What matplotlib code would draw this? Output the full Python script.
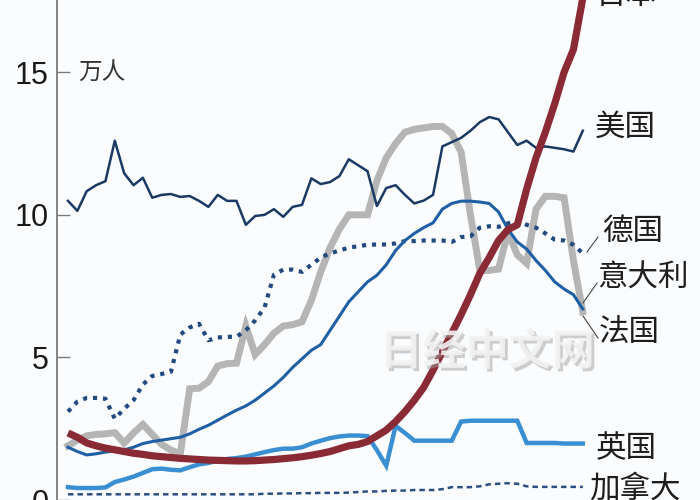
import matplotlib
matplotlib.use("Agg")
import matplotlib.pyplot as plt
import matplotlib.patheffects as pe
from matplotlib.lines import Line2D

# yearly points, no axis labels shown
years = list(range(1964, 2020))

japan = [2.35, 2.2, 2.0, 1.9, 1.82, 1.76, 1.7, 1.64, 1.6, 1.55,
         1.52, 1.49, 1.46, 1.44, 1.42, 1.4, 1.39, 1.38, 1.37, 1.37,
         1.38, 1.4, 1.42, 1.45, 1.48, 1.52, 1.57, 1.63, 1.7, 1.8,
         1.9, 1.95, 2.05, 2.25, 2.45, 2.75, 3.1, 3.5, 3.95, 4.55,
         5.2, 5.85, 6.5, 7.2, 7.95, 8.5, 9.1, 9.48, 9.65, 10.9,
         12.0, 12.9, 13.9, 15.0, 15.8, 17.6]

usa = [10.49, 10.14, 10.83, 11.04, 11.18, 12.6, 11.46, 11.04, 11.3, 10.6,
       10.7, 10.73, 10.63, 10.66, 10.49, 10.28, 10.7, 10.49, 10.49, 9.65,
       9.96, 10.0, 10.2, 9.93, 10.28, 10.35, 11.28, 11.08, 11.15, 11.36,
       11.95, 11.74, 11.53, 10.31, 10.94, 11.04, 10.7, 10.4, 10.5, 10.7,
       12.4, 12.55, 12.7, 12.95, 13.25, 13.43, 13.35, 12.9, 12.45, 12.6,
       12.35, 12.4, 12.35, 12.3, 12.22, 12.95]

germany = [3.1, 3.45, 3.58, 3.58, 3.55, 2.85, 3.2, 3.5, 4.05, 4.35,
           4.42, 4.5, 5.8, 6.05, 6.18, 5.6, 5.7, 5.72, 5.73, 5.95,
           6.3, 6.75, 7.9, 8.08, 8.08, 8.0, 8.25, 8.5, 8.65, 8.75,
           8.85, 8.9, 8.95, 8.96, 8.96, 9.0, 9.08, 9.08, 9.1, 9.1,
           9.1, 9.05, 9.22, 9.25, 9.55, 9.6, 9.58, 9.7, 9.8, 9.65,
           9.55, 9.35, 9.13, 9.1, 8.95, 8.65]

italy = [1.85, 1.7, 1.58, 1.62, 1.68, 1.72, 1.76, 1.85, 1.98, 2.05,
         2.1, 2.15, 2.2, 2.32, 2.48, 2.62, 2.8, 2.98, 3.15, 3.3,
         3.5, 3.75, 4.0, 4.3, 4.65, 4.95, 5.25, 5.45, 5.95, 6.45,
         6.95, 7.3, 7.65, 7.88, 8.25, 8.75, 9.1, 9.35, 9.55, 9.72,
         10.2, 10.4, 10.48, 10.48, 10.45, 10.4, 10.1, 9.5, 9.05, 8.8,
         8.4, 8.05, 7.65, 7.4, 7.2, 6.7]

france = [1.9, 2.1, 2.25, 2.3, 2.32, 2.36, 2.0, 2.35, 2.65, 2.3,
          1.95, 1.75, 1.62, 3.9, 3.92, 4.15, 4.7, 4.78, 4.8, 6.1,
          5.1, 5.45, 5.85, 6.1, 6.15, 6.25, 7.0, 8.0, 8.85, 9.5,
          10.0, 10.0, 10.0, 11.2, 12.0, 12.5, 12.9, 13.0, 13.05, 13.1,
          13.1, 12.85, 12.2, 10.0, 8.05, 8.05, 8.1, 9.4, 8.6, 8.3,
          10.2, 10.65, 10.65, 10.6, 8.4, 6.6]

uk = [0.45, 0.42, 0.42, 0.42, 0.44, 0.63, 0.72, 0.82, 0.95, 1.08,
      1.1, 1.06, 1.04, 1.15, 1.25, 1.3, 1.38, 1.44, 1.47, 1.52,
      1.6, 1.68, 1.75, 1.8, 1.8, 1.85, 1.98, 2.08, 2.17, 2.23,
      2.26, 2.26, 2.24, 1.75, 1.2, 2.6, 2.35, 2.08, 2.08, 2.08,
      2.08, 2.08, 2.75, 2.78, 2.78, 2.78, 2.78, 2.78, 2.78, 2.0,
      2.0, 2.0, 2.0, 1.98, 1.98, 1.98]

canada = [0.2, 0.2, 0.2, 0.2, 0.2, 0.2, 0.2, 0.2, 0.2, 0.2,
          0.2, 0.2, 0.2, 0.2, 0.2, 0.2, 0.2, 0.2, 0.2, 0.2,
          0.2, 0.22, 0.22, 0.23, 0.23, 0.24, 0.24, 0.25, 0.25, 0.25,
          0.26, 0.28, 0.3, 0.3, 0.32, 0.33, 0.33, 0.35, 0.35, 0.35,
          0.38, 0.45, 0.45, 0.45, 0.48, 0.55, 0.57, 0.59, 0.57, 0.48,
          0.46, 0.46, 0.46, 0.46, 0.46, 0.46]

yticks = [0, 5, 10, 15]

CJK = ["Noto Sans CJK SC", "DejaVu Sans"]
NUM = ["Liberation Sans Narrow", "Liberation Sans", "DejaVu Sans"]
W, H = 700, 500

fig = plt.figure(figsize=(7, 5), dpi=100)
fig.patch.set_facecolor("#fbfcfe")
ax = fig.add_axes([57 / W, 0, 1 - 57 / W, 1])
ax.set_facecolor("#fbfcfe")

# draw order: thin ones first, the thick red on top
ax.plot(years, canada, color="#2b4f80", lw=1.8, linestyle=(0, (2.2, 1.6)))
ax.plot(years, uk, color="#3a8fd2", lw=3.2, solid_joinstyle="miter")
ax.plot(years, france, color="#b5b5b5", lw=5, solid_joinstyle="miter")
ax.plot(years, germany, color="#234a80", lw=3, linestyle=(0, (1, 1.4)),
        dash_capstyle="butt")
ax.plot(years, italy, color="#1f5fa5", lw=2.2)
ax.plot(years, usa, color="#1b3a63", lw=1.8)
ax.plot(years, japan, color="#8a2a35", lw=5.2, solid_capstyle="butt")

px0, step = 68, 9.36
ax.set_xlim(years[0] - (px0 - 57) / step, years[0] + (W - px0) / step)
ax.set_ylim((505 - H) / 28.8, 505 / 28.8)

for s in ["top", "right", "bottom"]:
    ax.spines[s].set_visible(False)
ax.spines["left"].set_color("#7a7a7a")
ax.spines["left"].set_linewidth(1.3)
ax.set_xticks([])
ax.set_yticks(yticks)
ax.tick_params(axis="y", direction="in", length=9.5, width=1.0,
               color="#7a7a7a", pad=6, labelsize=22, labelcolor="#1a1a1a")
for lab in ax.get_yticklabels():
    lab.set_family(NUM)


def ftext(x, y, s, size=22, color="#1e1e1e"):
    fig.text(x / W, 1 - y / H, s, family=CJK, color=color,
             va="center", ha="left", fontsize=size)


ftext(78, 72, "万人", size=17, color="#333333")
ftext(596, -4, "日本")
ftext(595, 127, "美国")
ftext(602, 232, "德国")
ftext(597, 278, "意大利")
ftext(599, 333, "法国")
ftext(596, 449, "英国")
ftext(589, 489, "加拿大")

# leader lines
for (x1, y1, x2, y2) in [(587, 252, 598, 237), (583, 303, 597, 283),
                         (583, 316, 598, 338)]:
    fig.add_artist(Line2D([x1 / W, x2 / W], [1 - y1 / H, 1 - y2 / H],
                          color="#444444", lw=0.8))

# watermark
fig.text(487 / W, 1 - 352 / H, "日经中文网", family=CJK, fontsize=31,
         fontweight="bold", color="#f2f2f2", ha="center", va="center",
         alpha=0.9, zorder=20,
         path_effects=[pe.SimplePatchShadow(offset=(2, -2),
                                            shadow_rgbFace="#a0a0a0",
                                            alpha=0.5),
                       pe.Normal()])

fig.savefig("out.png", dpi=100, facecolor=fig.get_facecolor())
